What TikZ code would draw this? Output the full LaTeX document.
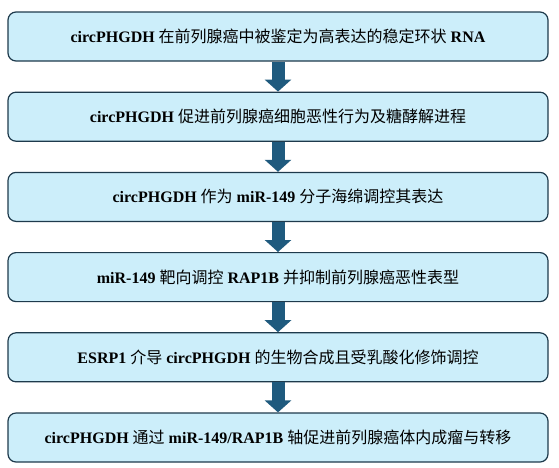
\documentclass[tikz,border=0pt]{standalone}
\usepackage{fontspec}
\setmainfont{Liberation Serif}
\newfontfamily\cjk{Noto Sans CJK SC}
\usetikzlibrary{arrows.meta, positioning}
\definecolor{boxfill}{HTML}{CCEEFA}
\definecolor{boxline}{HTML}{1E3A4C}
\definecolor{arrowblue}{HTML}{1F5A7E}
\newcommand{\zh}[1]{{\cjk\mdseries #1}}

\begin{document}
\begin{tikzpicture}[
    every node/.style={font=\fontsize{16}{19}\selectfont\bfseries},
    stage/.style={rounded corners=8pt, draw=boxline, line width=1.2pt, fill=boxfill, minimum width=540pt, minimum height=49pt, align=center, inner sep=0pt},
    flow/.style={-{Triangle[width=26pt, length=12pt]}, line width=13pt, arrowblue},
    node distance=30pt
]
\useasboundingbox (0,0) rectangle (559pt,-467pt);
\node[stage] (s1) at (278pt,-36.5pt) {circPHGDH \zh{在前列腺癌中被鉴定为高表达的稳定环状} RNA};
\node[stage, below=of s1] (s2) {circPHGDH \zh{促进前列腺癌细胞恶性行为及糖酵解进程}};
\node[stage, below=of s2] (s3) {circPHGDH \zh{作为} miR-149 \zh{分子海绵调控其表达}};
\node[stage, below=of s3] (s4) {miR-149 \zh{靶向调控} RAP1B \zh{并抑制前列腺癌恶性表型}};
\node[stage, below=of s4] (s5) {ESRP1 \zh{介导} circPHGDH \zh{的生物合成且受乳酸化修饰调控}};
\node[stage, below=of s5] (s6) {circPHGDH \zh{通过} miR-149/RAP1B \zh{轴促进前列腺癌体内成瘤与转移}};
\draw[flow] (s1.south) -- (s2.north);
\draw[flow] (s2.south) -- (s3.north);
\draw[flow] (s3.south) -- (s4.north);
\draw[flow] (s4.south) -- (s5.north);
\draw[flow] (s5.south) -- (s6.north);
\end{tikzpicture}
\end{document}
